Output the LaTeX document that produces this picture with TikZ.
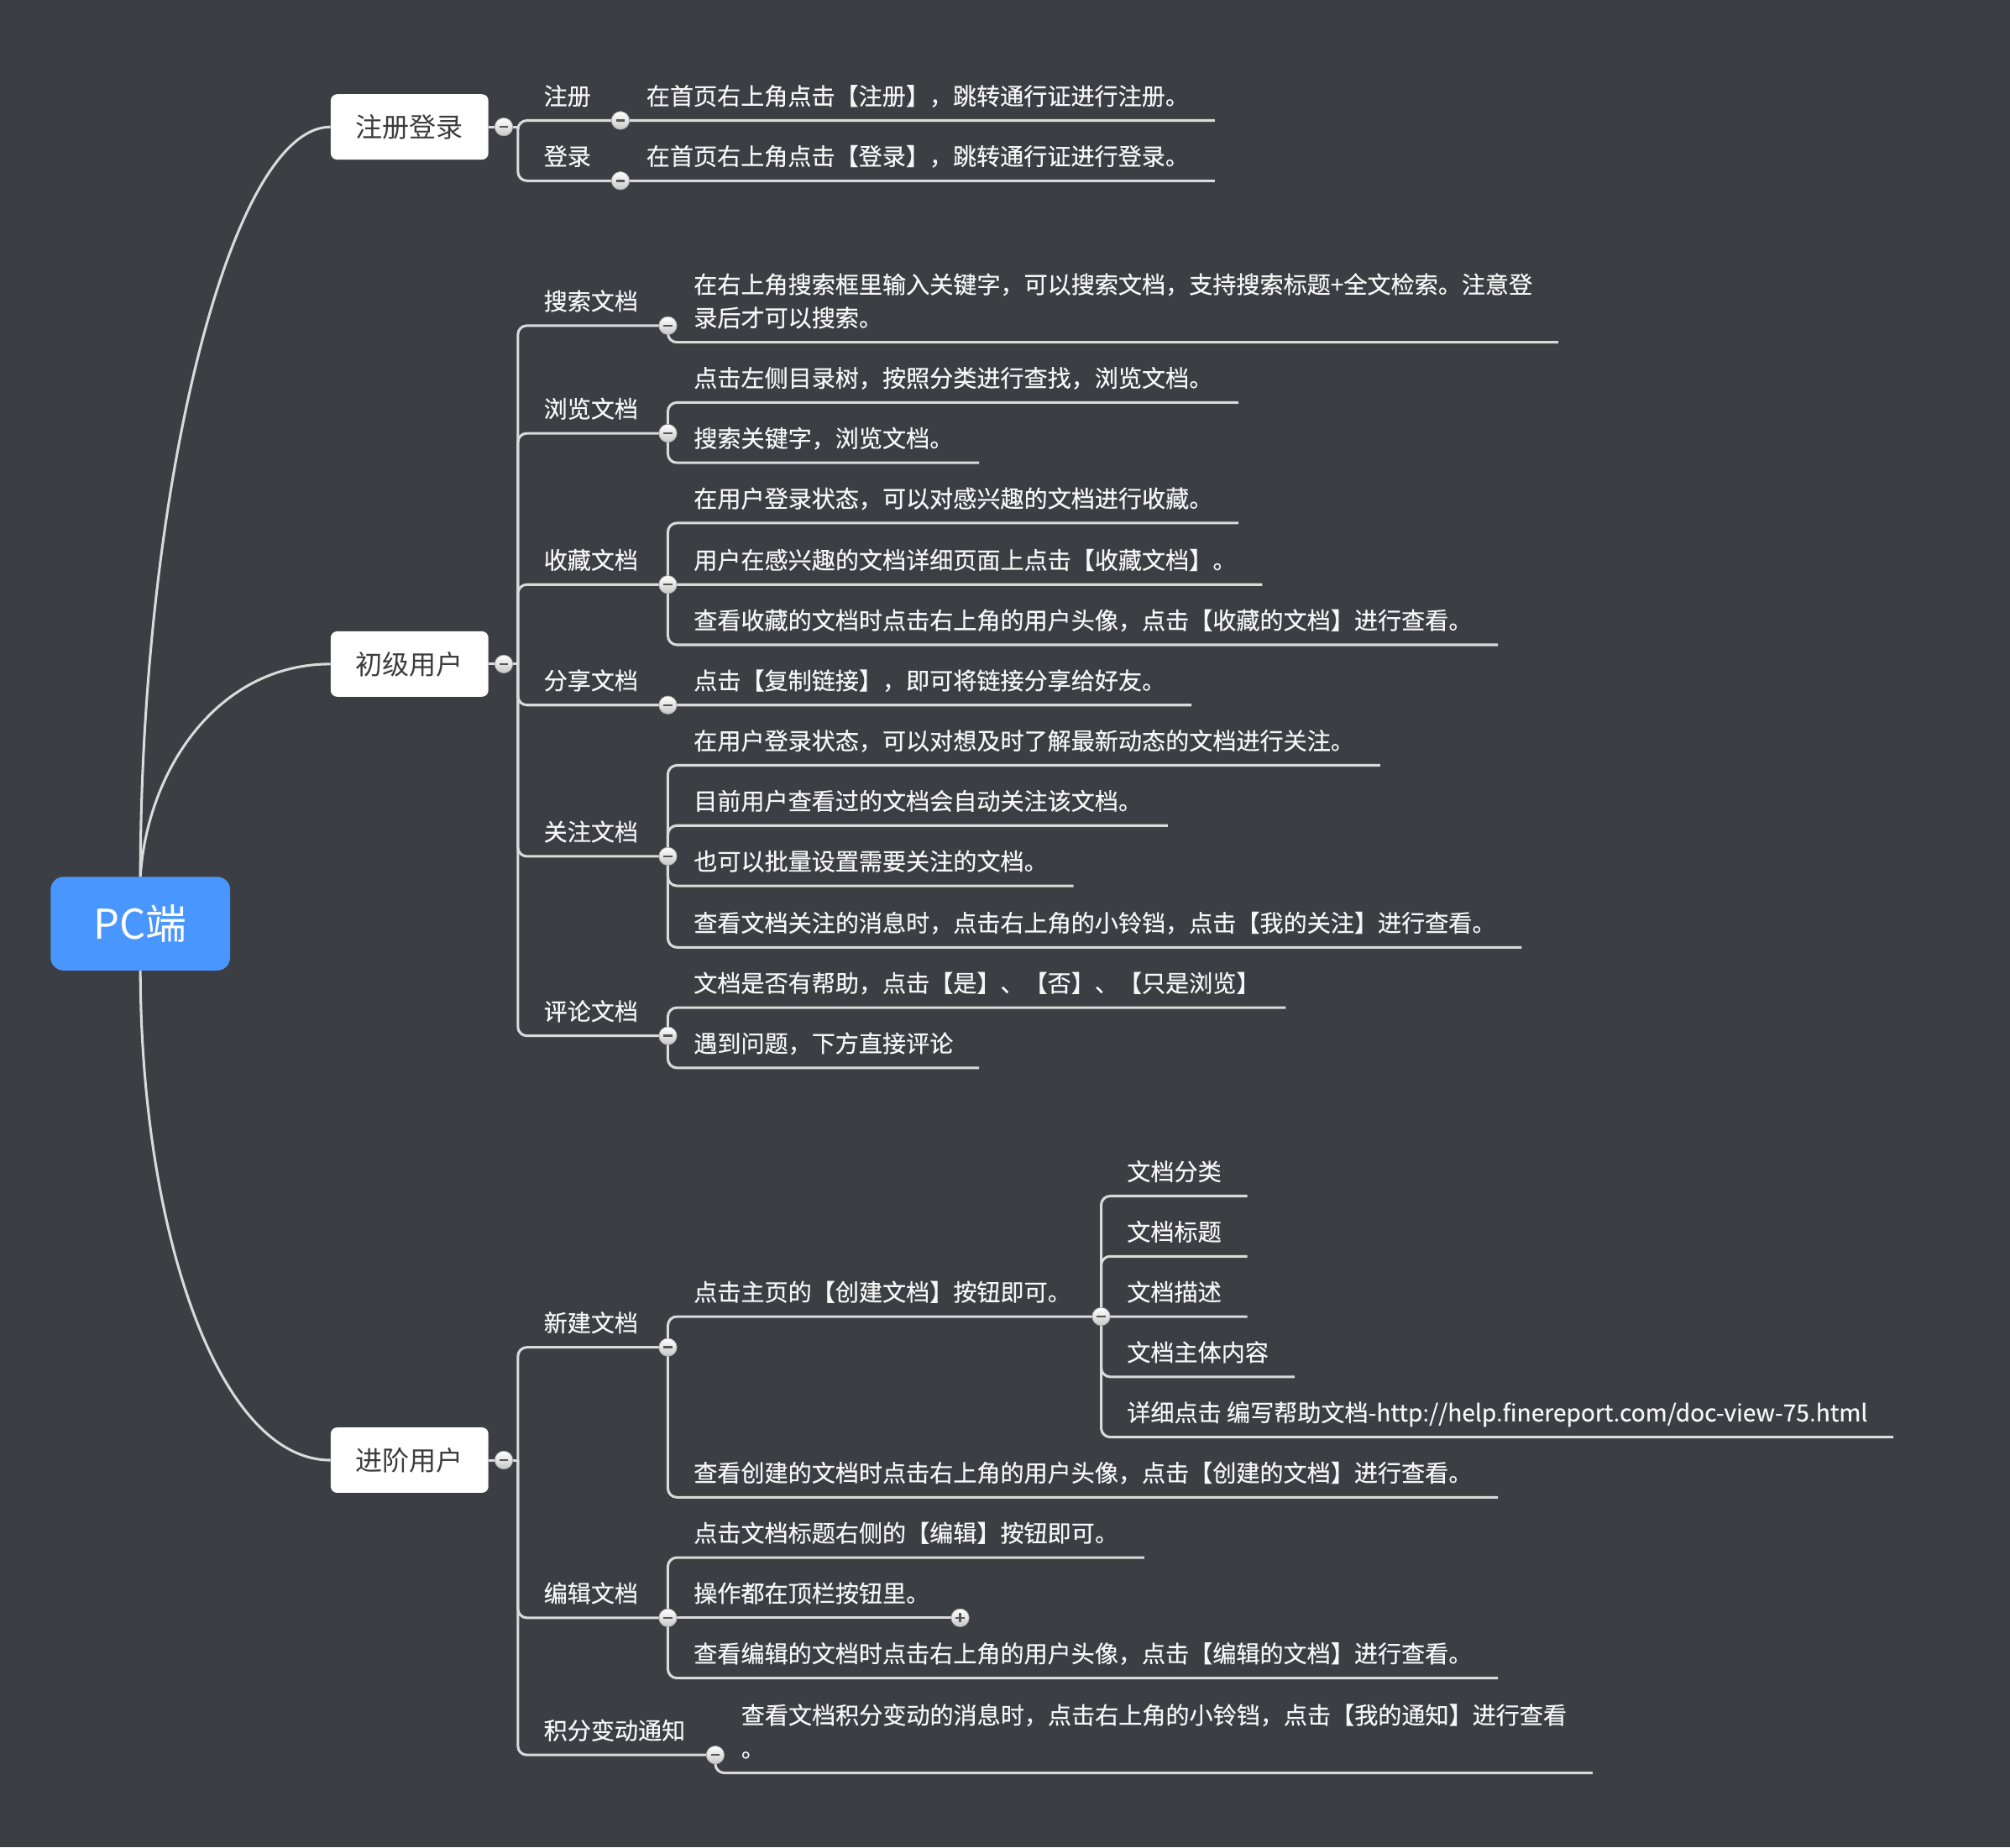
\documentclass[tikz,border=0pt]{standalone}
\usepackage{fontspec}
\setmainfont{Noto Sans CJK SC}
\newfontfamily\leaffont{Noto Sans CJK SC}[FakeBold=0.35]
\usepackage{xcolor}
\usepackage{tikz}

\definecolor{bgdark}{RGB}{59,62,67}
\definecolor{wiregray}{RGB}{218,218,218}
\definecolor{rootblue}{RGB}{74,150,255}
\definecolor{boxtext}{RGB}{60,60,60}
\definecolor{leaftext}{RGB}{246,246,246}
\definecolor{foldmark}{RGB}{85,85,85}

\begin{document}
\begin{tikzpicture}[x=1pt,y=-1pt,
    rootbox/.style={fill=rootblue, rounded corners=10pt, minimum width=140pt,
        minimum height=73pt, text=white, font=\fontsize{32}{38}\selectfont},
    groupbox/.style={fill=white, rounded corners=5pt, minimum width=123pt,
        minimum height=51pt, text=boxtext, font=\fontsize{21}{25}\selectfont},
    topic/.style={anchor=south west, inner xsep=20pt, inner ysep=8pt,
        text height=14pt, text depth=4pt, text=leaftext,
        font=\leaffont\fontsize{18.4}{26}\selectfont},
    trunk/.style={draw=wiregray, line width=2pt},
    wire/.style={draw=wiregray, line width=2pt, rounded corners=7pt},
    fold/.style={circle, inner sep=0pt, minimum size=14pt, top color=white,
        bottom color=black!22, draw=black!35, line width=0.5pt,
        path picture={\draw[foldmark, line width=1.6pt]
            ([xshift=-3.5pt]path picture bounding box.center) --
            ([xshift=3.5pt]path picture bounding box.center);}},
    unfold/.style={fold, path picture={\draw[foldmark, line width=1.6pt]
            ([xshift=-3.5pt]path picture bounding box.center) --
            ([xshift=3.5pt]path picture bounding box.center)
            ([yshift=-3.5pt]path picture bounding box.center) --
            ([yshift=3.5pt]path picture bounding box.center);}}]

    % canvas
    \fill[bgdark] (0,0) rectangle (1568,1441);
    \useasboundingbox (0,0) rectangle (1568,1441);

    % root and the three groups
    \node[rootbox] (root) at (109.5,720.5) {PC端};
    \node[groupbox] (reg) at (319.5,99) {注册登录};
    \node[groupbox] (bas) at (319.5,518) {初级用户};
    \node[groupbox] (adv) at (319.5,1139) {进阶用户};

    % register / login
    \coordinate (reg-b) at (393,99);
    \coordinate (reg-h) at (404,99);
    \node[topic] (reg-1) at (404,94) {注册};
    \coordinate (reg-1-b) at (484,94);
    \node[topic] (reg-1-1) at (484,94) {在首页右上角点击【注册】，跳转通行证进行注册。};
    \node[topic] (reg-2) at (404,141) {登录};
    \coordinate (reg-2-b) at (484,141);
    \node[topic] (reg-2-1) at (484,141) {在首页右上角点击【登录】，跳转通行证进行登录。};

    % basic user
    \coordinate (bas-b) at (393,518);
    \coordinate (bas-h) at (404,518);
    \node[topic] (bas-1) at (404,254) {搜索文档};
    \coordinate (bas-1-b) at (521,254);
    \node[topic] (bas-1-1) at (521,267) {\begin{tabular}[b]{@{}l@{}}在右上角搜索框里输入关键字，可以搜索文档，支持搜索标题+全文检索。注意登\\录后才可以搜索。\end{tabular}};
    \node[topic] (bas-2) at (404,338) {浏览文档};
    \coordinate (bas-2-b) at (521,338);
    \node[topic] (bas-2-1) at (521,314) {点击左侧目录树，按照分类进行查找，浏览文档。};
    \node[topic] (bas-2-2) at (521,361) {搜索关键字，浏览文档。};
    \node[topic] (bas-3) at (404,456) {收藏文档};
    \coordinate (bas-3-b) at (521,456);
    \node[topic] (bas-3-1) at (521,408) {在用户登录状态，可以对感兴趣的文档进行收藏。};
    \node[topic] (bas-3-2) at (521,456) {用户在感兴趣的文档详细页面上点击【收藏文档】。};
    \node[topic] (bas-3-3) at (521,503) {查看收藏的文档时点击右上角的用户头像，点击【收藏的文档】进行查看。};
    \node[topic] (bas-4) at (404,550) {分享文档};
    \coordinate (bas-4-b) at (521,550);
    \node[topic] (bas-4-1) at (521,550) {点击【复制链接】，即可将链接分享给好友。};
    \node[topic] (bas-5) at (404,668) {关注文档};
    \coordinate (bas-5-b) at (521,668);
    \node[topic] (bas-5-1) at (521,597) {在用户登录状态，可以对想及时了解最新动态的文档进行关注。};
    \node[topic] (bas-5-2) at (521,644) {目前用户查看过的文档会自动关注该文档。};
    \node[topic] (bas-5-3) at (521,691) {也可以批量设置需要关注的文档。};
    \node[topic] (bas-5-4) at (521,739) {查看文档关注的消息时，点击右上角的小铃铛，点击【我的关注】进行查看。};
    \node[topic] (bas-6) at (404,808) {评论文档};
    \coordinate (bas-6-b) at (521,808);
    \node[topic] (bas-6-1) at (521,786) {文档是否有帮助，点击【是】、【否】、【只是浏览】};
    \node[topic] (bas-6-2) at (521,833) {遇到问题，下方直接评论};

    % advanced user
    \coordinate (adv-b) at (393,1139);
    \coordinate (adv-h) at (404,1139);
    \node[topic] (adv-1) at (404,1051) {新建文档};
    \coordinate (adv-1-b) at (521,1051);
    \node[topic] (adv-1-1) at (521,1027) {点击主页的【创建文档】按钮即可。};
    \coordinate (adv-1-1-b) at (859,1027);
    \node[topic] (adv-1-1-1) at (859,933) {文档分类};
    \node[topic] (adv-1-1-2) at (859,980) {文档标题};
    \node[topic] (adv-1-1-3) at (859,1027) {文档描述};
    \node[topic] (adv-1-1-4) at (859,1074) {文档主体内容};
    \node[topic] (adv-1-1-5) at (859,1121) {详细点击 编写帮助文档-http://help.finereport.com/doc-view-75.html};
    \node[topic] (adv-1-2) at (521,1168) {查看创建的文档时点击右上角的用户头像，点击【创建的文档】进行查看。};
    \node[topic] (adv-2) at (404,1262) {编辑文档};
    \coordinate (adv-2-b) at (521,1262);
    \node[topic] (adv-2-1) at (521,1215) {点击文档标题右侧的【编辑】按钮即可。};
    \node[topic] (adv-2-2) at (521,1262) {操作都在顶栏按钮里。};
    \coordinate (adv-2-2-b) at (749,1262);
    \node[topic] (adv-2-3) at (521,1309) {查看编辑的文档时点击右上角的用户头像，点击【编辑的文档】进行查看。};
    \node[topic] (adv-3) at (404,1369) {积分变动通知};
    \coordinate (adv-3-b) at (558,1369);
    \node[topic] (adv-3-1) at (558,1383) {\begin{tabular}[b]{@{}l@{}}查看文档积分变动的消息时，点击右上角的小铃铛，点击【我的通知】进行查看\\。\end{tabular}};

    % curves from the root
    \draw[trunk] (root.north) .. controls (110,380) and (180,99) .. (reg.west);
    \draw[trunk] (root.north) .. controls (115,600) and (170,518) .. (bas.west);
    \draw[trunk] (root.south) .. controls (110,960) and (170,1139) .. (adv.west);

    % branches
    \draw[wire] (reg.east) -- (reg-h);
    \draw[wire] (bas.east) -- (bas-h);
    \draw[wire] (adv.east) -- (adv-h);
    \foreach \n in {reg-1,reg-2} \draw[wire] (reg-h) |- (\n-b);
    \foreach \n in {bas-1,bas-2,bas-3,bas-4,bas-5,bas-6} \draw[wire] (bas-h) |- (\n-b);
    \foreach \n in {adv-1,adv-2,adv-3} \draw[wire] (adv-h) |- (\n-b);

    % underlines of the leaves
    \draw[wire] (reg-1-b) |- (reg-1-1.south east);
    \draw[wire] (reg-2-b) |- (reg-2-1.south east);
    \draw[wire] (bas-1-b) |- (bas-1-1.south east);
    \foreach \n in {bas-2-1,bas-2-2} \draw[wire] (bas-2-b) |- (\n.south east);
    \foreach \n in {bas-3-1,bas-3-2,bas-3-3} \draw[wire] (bas-3-b) |- (\n.south east);
    \draw[wire] (bas-4-b) |- (bas-4-1.south east);
    \foreach \n in {bas-5-1,bas-5-2,bas-5-3,bas-5-4} \draw[wire] (bas-5-b) |- (\n.south east);
    \foreach \n in {bas-6-1,bas-6-2} \draw[wire] (bas-6-b) |- (\n.south east);
    \draw[wire] (adv-1-b) |- (adv-1-1-b);
    \draw[wire] (adv-1-b) |- (adv-1-2.south east);
    \foreach \n in {adv-1-1-1,adv-1-1-2,adv-1-1-3,adv-1-1-4,adv-1-1-5}
        \draw[wire] (adv-1-1-b) |- (\n.south east);
    \draw[wire] (adv-2-b) |- (adv-2-1.south east);
    \draw[wire] (adv-2-b) -- (adv-2-2-b);
    \draw[wire] (adv-2-b) |- (adv-2-3.south east);
    \draw[wire] (adv-3-b) |- (adv-3-1.south east);

    % fold buttons
    \foreach \b in {reg-b,reg-1-b,reg-2-b,bas-b,bas-1-b,bas-2-b,bas-3-b,bas-4-b,
        bas-5-b,bas-6-b,adv-b,adv-1-b,adv-1-1-b,adv-2-b,adv-3-b}
        \node[fold] (btn-\b) at (\b) {};
    \node[unfold] (btn-adv-2-2-b) at (adv-2-2-b) {};
\end{tikzpicture}
\end{document}
